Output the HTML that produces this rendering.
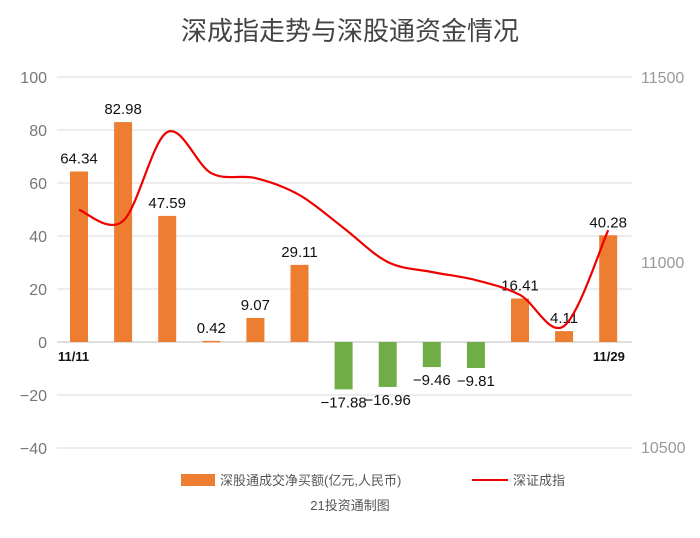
<!DOCTYPE html>
<html><head><meta charset="utf-8">
<style>
body{margin:0;background:#fff;width:700px;height:533px;overflow:hidden;font-family:"Liberation Sans","Noto Sans CJK SC",sans-serif;}
</style></head>
<body>
<svg id="chart" width="700" height="533" xmlns="http://www.w3.org/2000/svg" style="font-family:'Liberation Sans','Noto Sans CJK SC',sans-serif">
<text x="350" y="40" text-anchor="middle" font-size="26" fill="#444">深成指走势与深股通资金情况</text>
<g id="grid"></g><g id="bars"></g><g id="labels"></g><g id="line"></g>
<text x="58" y="361" font-size="13" font-weight="bold" fill="#111">11/11</text>
<text x="593" y="361" font-size="13" font-weight="bold" fill="#111">11/29</text>
<g>
<rect x="181" y="474" width="34" height="12" fill="#ED7D31"/>
<text x="220" y="485" font-size="13" fill="#555">深股通成交净买额(亿元,人民币)</text>
<line x1="472" y1="480" x2="508" y2="480" stroke="#e00" stroke-width="2"/>
<text x="513" y="485" font-size="13" fill="#555">深证成指</text>
</g>
<text x="350" y="510" text-anchor="middle" font-size="13" fill="#555">21投资通制图</text>
</svg>
<script>
const categories=["11/11","11/12","11/13","11/14","11/15","11/18","11/19","11/20","11/21","11/22","11/25","11/26","11/29"];
const flows=[64.34,82.98,47.59,0.42,9.07,29.11,-17.88,-16.96,-9.46,-9.81,16.41,4.11,40.28];
const indexVals=[11141,11111,11351,11240,11227,11181,11092,11000,10973,10951,10911,10827,11086];
const leftTicks=[100,80,60,40,20,0,-20,-40];
const rightTicks=[11500,11000,10500];
const NS="http://www.w3.org/2000/svg";
const yL=v=>342-(v)*2.65;
const yR=v=>77+(11500-v)*0.37;
const xC=i=>79+i*44.1;
function mk(t,a,p){const e=document.createElementNS(NS,t);for(const k in a)e.setAttribute(k,a[k]);p.appendChild(e);return e;}
const grid=document.getElementById('grid');
leftTicks.forEach(v=>{
 const l=mk('line',{x1:57,x2:632,y1:yL(v),y2:yL(v),stroke:v===0?'#ccc':'#e2e2e2','stroke-width':1.3},grid);
 
 
 const t=mk('text',{x:47,y:yL(v)+6,'text-anchor':'end','font-size':16,fill:'#777'},grid);
 
 
 t.textContent=v<0?'−'+(-v):v;
});
rightTicks.forEach(v=>{
 const t=mk('text',{x:641,y:yR(v)+6,'font-size':16,fill:'#999'},grid);
 
 
 t.textContent=v;
});
const bars=document.getElementById('bars'),labels=document.getElementById('labels');
flows.forEach((v,i)=>{
 const y0=yL(0),y1=yL(v);
 const r=mk('rect',{x:xC(i)-9,y:Math.min(y0,y1),width:18,height:Math.max(1.5,Math.abs(y1-y0)),fill:v>=0?'#ED7D31':'#70AD47'},bars);
 
 
 const t=mk('text',{x:xC(i),y:v>=0?y1-8:y1+18,'text-anchor':'middle','font-size':15,fill:'#111'},labels);
 
 
 t.textContent=v<0?'−'+(-v).toFixed(2):v.toFixed(2);
});
const pts=indexVals.map((v,i)=>[xC(i),yR(v)]);
let d='M'+pts[0][0]+','+pts[0][1];
for(let i=0;i<pts.length-1;i++){
 const p0=pts[Math.max(0,i-1)],p1=pts[i],p2=pts[i+1],p3=pts[Math.min(pts.length-1,i+2)];
 const c1=[p1[0]+(p2[0]-p0[0])/6,p1[1]+(p2[1]-p0[1])/6],c2=[p2[0]-(p3[0]-p1[0])/6,p2[1]-(p3[1]-p1[1])/6];
 d+=' C'+c1+' '+c2+' '+p2;
}
const ln=mk('path',{d:d,fill:'none',stroke:'#e00','stroke-width':2.2},document.getElementById('line'));


</script>
</body></html>
